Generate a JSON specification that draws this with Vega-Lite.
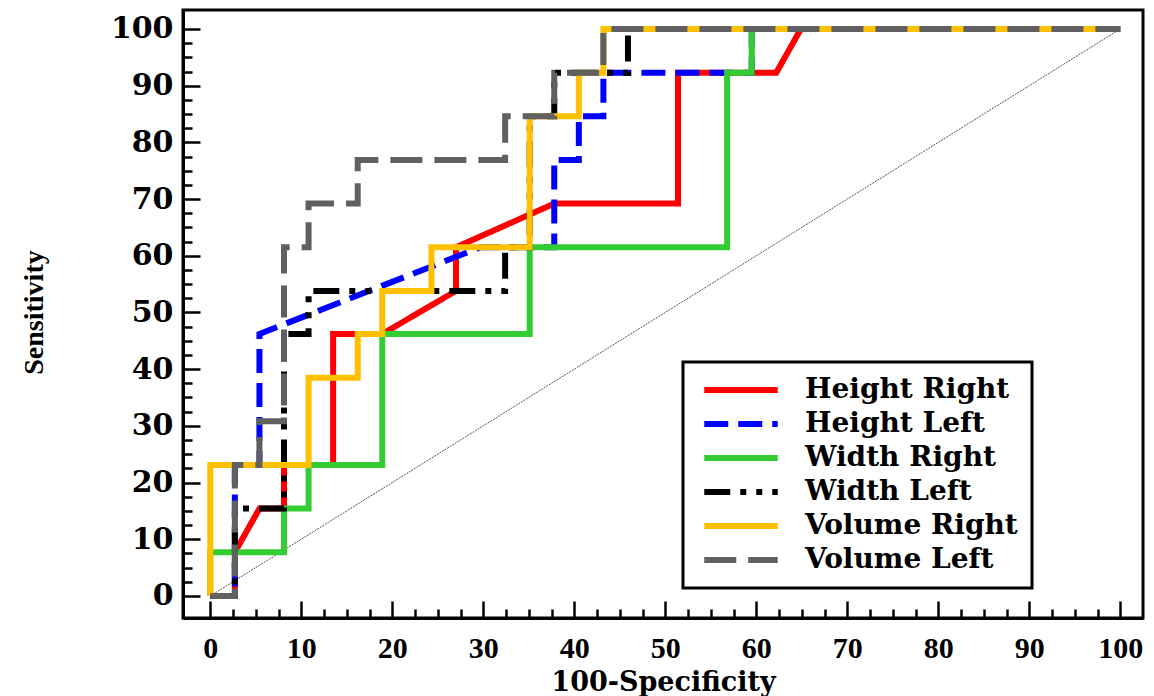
{
  "$schema": "https://vega.github.io/schema/vega-lite/v6.json",
  "width": 960,
  "height": 608,
  "autosize": {"type": "none"},
  "padding": {"left": 183, "top": 10, "right": 11, "bottom": 78},
  "background": "white",
  "config": {
    "view": {"stroke": "black", "strokeWidth": 3},
    "axis": {"grid": false, "domainColor": "black", "domainWidth": 3, "tickColor": "black", "tickWidth": 2.5, "labelColor": "black", "titleColor": "black", "labelFlush": false, "labelOverlap": false}
  },
  "resolve": {"axis": {"x": "independent", "y": "independent"}},
  "datasets": {
    "diag": [{"x": 0, "y": 0}, {"x": 100, "y": 100}],
    "roc": [
      {"c": "Height Right", "i": 0, "x": 0, "y": 0},
      {"c": "Height Right", "i": 1, "x": 2.7, "y": 0},
      {"c": "Height Right", "i": 2, "x": 2.7, "y": 7.7},
      {"c": "Height Right", "i": 3, "x": 5.4, "y": 15.4},
      {"c": "Height Right", "i": 4, "x": 8.1, "y": 15.4},
      {"c": "Height Right", "i": 5, "x": 8.1, "y": 23.1},
      {"c": "Height Right", "i": 6, "x": 13.5, "y": 23.1},
      {"c": "Height Right", "i": 7, "x": 13.5, "y": 46.2},
      {"c": "Height Right", "i": 8, "x": 18.9, "y": 46.2},
      {"c": "Height Right", "i": 9, "x": 27.0, "y": 53.8},
      {"c": "Height Right", "i": 10, "x": 27.0, "y": 61.5},
      {"c": "Height Right", "i": 11, "x": 37.8, "y": 69.2},
      {"c": "Height Right", "i": 12, "x": 51.4, "y": 69.2},
      {"c": "Height Right", "i": 13, "x": 51.4, "y": 92.3},
      {"c": "Height Right", "i": 14, "x": 62.2, "y": 92.3},
      {"c": "Height Right", "i": 15, "x": 64.9, "y": 100},
      {"c": "Height Right", "i": 16, "x": 100, "y": 100},
      {"c": "Height Left", "i": 0, "x": 0, "y": 0},
      {"c": "Height Left", "i": 1, "x": 2.7, "y": 0},
      {"c": "Height Left", "i": 2, "x": 2.7, "y": 23.1},
      {"c": "Height Left", "i": 3, "x": 5.4, "y": 23.1},
      {"c": "Height Left", "i": 4, "x": 5.4, "y": 46.2},
      {"c": "Height Left", "i": 5, "x": 29.7, "y": 61.5},
      {"c": "Height Left", "i": 6, "x": 37.8, "y": 61.5},
      {"c": "Height Left", "i": 7, "x": 37.8, "y": 76.9},
      {"c": "Height Left", "i": 8, "x": 40.5, "y": 76.9},
      {"c": "Height Left", "i": 9, "x": 40.5, "y": 84.6},
      {"c": "Height Left", "i": 10, "x": 43.2, "y": 84.6},
      {"c": "Height Left", "i": 11, "x": 43.2, "y": 92.3},
      {"c": "Height Left", "i": 12, "x": 59.5, "y": 92.3},
      {"c": "Height Left", "i": 13, "x": 59.5, "y": 100},
      {"c": "Height Left", "i": 14, "x": 100, "y": 100},
      {"c": "Width Right", "i": 0, "x": 0, "y": 0},
      {"c": "Width Right", "i": 1, "x": 0, "y": 7.7},
      {"c": "Width Right", "i": 2, "x": 8.1, "y": 7.7},
      {"c": "Width Right", "i": 3, "x": 8.1, "y": 15.4},
      {"c": "Width Right", "i": 4, "x": 10.8, "y": 15.4},
      {"c": "Width Right", "i": 5, "x": 10.8, "y": 23.1},
      {"c": "Width Right", "i": 6, "x": 18.9, "y": 23.1},
      {"c": "Width Right", "i": 7, "x": 18.9, "y": 46.2},
      {"c": "Width Right", "i": 8, "x": 35.1, "y": 46.2},
      {"c": "Width Right", "i": 9, "x": 35.1, "y": 61.5},
      {"c": "Width Right", "i": 10, "x": 56.8, "y": 61.5},
      {"c": "Width Right", "i": 11, "x": 56.8, "y": 92.3},
      {"c": "Width Right", "i": 12, "x": 59.5, "y": 92.3},
      {"c": "Width Right", "i": 13, "x": 59.5, "y": 100},
      {"c": "Width Right", "i": 14, "x": 100, "y": 100},
      {"c": "Width Left", "i": 0, "x": 0, "y": 0},
      {"c": "Width Left", "i": 1, "x": 2.7, "y": 0},
      {"c": "Width Left", "i": 2, "x": 2.7, "y": 15.4},
      {"c": "Width Left", "i": 3, "x": 8.1, "y": 15.4},
      {"c": "Width Left", "i": 4, "x": 8.1, "y": 46.2},
      {"c": "Width Left", "i": 5, "x": 10.8, "y": 46.2},
      {"c": "Width Left", "i": 6, "x": 10.8, "y": 53.8},
      {"c": "Width Left", "i": 7, "x": 32.4, "y": 53.8},
      {"c": "Width Left", "i": 8, "x": 32.4, "y": 61.5},
      {"c": "Width Left", "i": 9, "x": 35.1, "y": 61.5},
      {"c": "Width Left", "i": 10, "x": 35.1, "y": 84.6},
      {"c": "Width Left", "i": 11, "x": 37.8, "y": 84.6},
      {"c": "Width Left", "i": 12, "x": 37.8, "y": 92.3},
      {"c": "Width Left", "i": 13, "x": 45.9, "y": 92.3},
      {"c": "Width Left", "i": 14, "x": 45.9, "y": 100},
      {"c": "Width Left", "i": 15, "x": 100, "y": 100},
      {"c": "Volume Right", "i": 0, "x": 0, "y": 0},
      {"c": "Volume Right", "i": 1, "x": 0, "y": 23.1},
      {"c": "Volume Right", "i": 2, "x": 10.8, "y": 23.1},
      {"c": "Volume Right", "i": 3, "x": 10.8, "y": 38.5},
      {"c": "Volume Right", "i": 4, "x": 16.2, "y": 38.5},
      {"c": "Volume Right", "i": 5, "x": 16.2, "y": 46.2},
      {"c": "Volume Right", "i": 6, "x": 18.9, "y": 46.2},
      {"c": "Volume Right", "i": 7, "x": 18.9, "y": 53.8},
      {"c": "Volume Right", "i": 8, "x": 24.3, "y": 53.8},
      {"c": "Volume Right", "i": 9, "x": 24.3, "y": 61.5},
      {"c": "Volume Right", "i": 10, "x": 35.1, "y": 61.5},
      {"c": "Volume Right", "i": 11, "x": 35.1, "y": 84.6},
      {"c": "Volume Right", "i": 12, "x": 40.5, "y": 84.6},
      {"c": "Volume Right", "i": 13, "x": 40.5, "y": 92.3},
      {"c": "Volume Right", "i": 14, "x": 43.2, "y": 92.3},
      {"c": "Volume Right", "i": 15, "x": 43.2, "y": 100},
      {"c": "Volume Right", "i": 16, "x": 100, "y": 100},
      {"c": "Volume Left", "i": 0, "x": 0, "y": 0},
      {"c": "Volume Left", "i": 1, "x": 2.7, "y": 0},
      {"c": "Volume Left", "i": 2, "x": 2.7, "y": 23.1},
      {"c": "Volume Left", "i": 3, "x": 5.4, "y": 23.1},
      {"c": "Volume Left", "i": 4, "x": 5.4, "y": 30.8},
      {"c": "Volume Left", "i": 5, "x": 8.1, "y": 30.8},
      {"c": "Volume Left", "i": 6, "x": 8.1, "y": 61.5},
      {"c": "Volume Left", "i": 7, "x": 10.8, "y": 61.5},
      {"c": "Volume Left", "i": 8, "x": 10.8, "y": 69.2},
      {"c": "Volume Left", "i": 9, "x": 16.2, "y": 69.2},
      {"c": "Volume Left", "i": 10, "x": 16.2, "y": 76.9},
      {"c": "Volume Left", "i": 11, "x": 32.4, "y": 76.9},
      {"c": "Volume Left", "i": 12, "x": 32.4, "y": 84.6},
      {"c": "Volume Left", "i": 13, "x": 37.8, "y": 84.6},
      {"c": "Volume Left", "i": 14, "x": 37.8, "y": 92.3},
      {"c": "Volume Left", "i": 15, "x": 43.2, "y": 92.3},
      {"c": "Volume Left", "i": 16, "x": 43.2, "y": 100},
      {"c": "Volume Left", "i": 17, "x": 100, "y": 100}
    ]
  },
  "layer": [
    {
      "data": {"name": "diag"},
      "mark": {"type": "line", "color": "#555555", "strokeWidth": 1, "strokeDash": [2, 1]},
      "encoding": {
        "x": {
          "field": "x", "type": "quantitative",
          "scale": {"domain": [-3, 102.5], "nice": false, "zero": false},
          "axis": {
            "orient": "bottom",
            "title": "100-Specificity",
            "values": [0, 10, 20, 30, 40, 50, 60, 70, 80, 90, 100],
            "tickSize": -17,
            "labelFont": "Liberation Serif", "labelFontWeight": "bold", "labelFontSize": 30,
            "labelPadding": 32,
            "titleFont": "DejaVu Serif", "titleFontWeight": "bold", "titleFontSize": 27,
            "titleY": 72, "titleBaseline": "alphabetic"
          }
        },
        "y": {
          "field": "y", "type": "quantitative",
          "scale": {"domain": [-3.9, 103.35], "nice": false, "zero": false},
          "axis": {
            "orient": "left",
            "title": "Sensitivity",
            "values": [0, 10, 20, 30, 40, 50, 60, 70, 80, 90, 100],
            "tickSize": -17,
            "labelFont": "DejaVu Serif", "labelFontWeight": "bold", "labelFontSize": 30,
            "labelPadding": 27,
            "titleFont": "Liberation Serif", "titleFontWeight": "bold", "titleFontSize": 28,
            "titleX": -135, "titleY": 302, "titleBaseline": "bottom", "titleAngle": -90
          }
        }
      }
    },
    {
      "data": {"name": "roc"},
      "mark": {"type": "line", "strokeWidth": 6, "strokeCap": "butt", "strokeJoin": "miter"},
      "encoding": {
        "x": {
          "field": "x", "type": "quantitative",
          "axis": {
            "orient": "bottom", "title": null, "labels": false, "domain": false,
            "values": [2.5, 5, 7.5, 12.5, 15, 17.5, 22.5, 25, 27.5, 32.5, 35, 37.5, 42.5, 45, 47.5, 52.5, 55, 57.5, 62.5, 65, 67.5, 72.5, 75, 77.5, 82.5, 85, 87.5, 92.5, 95, 97.5],
            "tickSize": -9
          }
        },
        "y": {
          "field": "y", "type": "quantitative",
          "axis": {
            "orient": "left", "title": null, "labels": false, "domain": false,
            "values": [2.5, 5, 7.5, 12.5, 15, 17.5, 22.5, 25, 27.5, 32.5, 35, 37.5, 42.5, 45, 47.5, 52.5, 55, 57.5, 62.5, 65, 67.5, 72.5, 75, 77.5, 82.5, 85, 87.5, 92.5, 95, 97.5],
            "tickSize": -9
          }
        },
        "order": {"field": "i", "type": "quantitative"},
        "color": {
          "field": "c", "type": "nominal",
          "scale": {
            "domain": ["Height Right", "Height Left", "Width Right", "Width Left", "Volume Right", "Volume Left"],
            "range": ["#ff0000", "#0000ff", "#33cc33", "#000000", "#ffc000", "#606060"]
          },
          "legend": {
            "title": null, "orient": "none", "legendX": 500, "legendY": 352,
            "strokeColor": "black", "fillColor": "white", "padding": 14,
            "labelFont": "DejaVu Serif", "labelFontWeight": "bold", "labelFontSize": 28, "labelColor": "black", "labelLimit": 0,
            "rowPadding": 6, "symbolType": "M-3.5,0H3.5", "symbolSize": 441, "symbolStrokeWidth": 6,
            "symbolOffset": 30, "labelOffset": 50,
            "encode": {"legend": {"update": {"strokeWidth": {"value": 3}}}}
          }
        },
        "strokeDash": {
          "field": "c", "type": "nominal",
          "scale": {
            "domain": ["Height Right", "Height Left", "Width Right", "Width Left", "Volume Right", "Volume Left"],
            "range": [[1, 0], [24, 10], [1, 0], [26, 10, 6, 10, 6, 10], [1, 0], [32, 12]]
          },
          "legend": {
            "title": null, "orient": "none", "legendX": 500, "legendY": 352,
            "strokeColor": "black", "fillColor": "white", "padding": 14,
            "labelFont": "DejaVu Serif", "labelFontWeight": "bold", "labelFontSize": 28, "labelColor": "black", "labelLimit": 0,
            "rowPadding": 6, "symbolType": "M-3.5,0H3.5", "symbolSize": 441, "symbolStrokeWidth": 6,
            "symbolOffset": 30, "labelOffset": 50,
            "encode": {"legend": {"update": {"strokeWidth": {"value": 3}}}}
          }
        }
      }
    }
  ]
}
